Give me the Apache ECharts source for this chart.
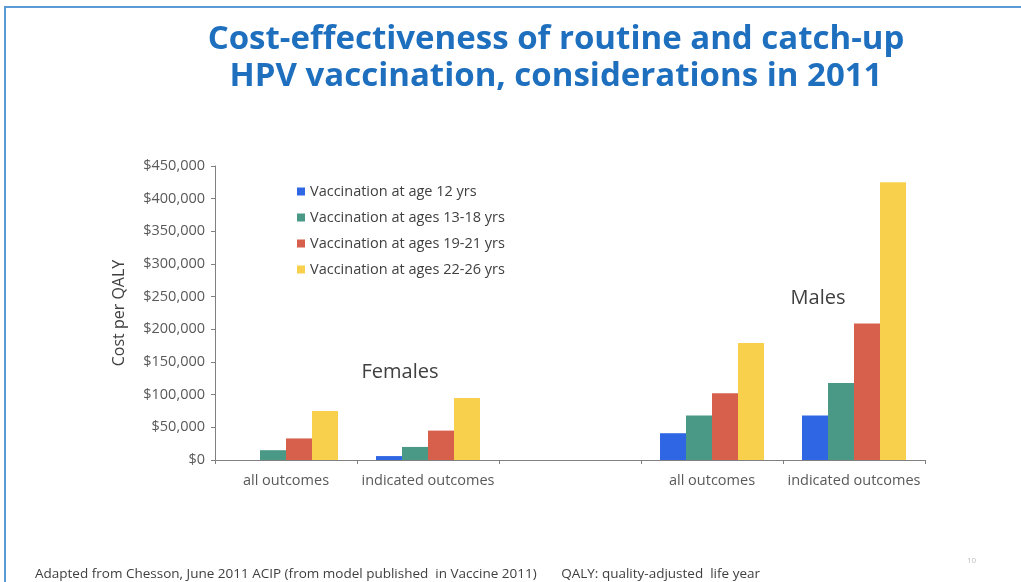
<!DOCTYPE html>
<html>
<head>
<meta charset="utf-8">
<script src="https://cdn.jsdelivr.net/npm/echarts@6/dist/echarts.min.js"></script>
<style>
  html, body { margin: 0; padding: 0; background: #fff; }
  #main { width: 1021px; height: 582px; position: relative; }
  .frame { position: absolute; left: 4px; top: 6px; right: 0; bottom: 0;
           border-top: 2px solid #5b9bd5; border-left: 2px solid #5b9bd5; pointer-events: none; }
</style>
</head>
<body>
<div class="frame"></div>
<div id="main"></div>
<script>
// data
const categories = ["all outcomes", "indicated outcomes", "", "all outcomes", "indicated outcomes"];
const seriesNames = [
  "Vaccination at age 12 yrs",
  "Vaccination at ages 13-18 yrs",
  "Vaccination at ages 19-21 yrs",
  "Vaccination at ages 22-26 yrs"
];
const age12 = [0, 6000, null, 41000, 68000];
const age13to18 = [15000, 20000, null, 68000, 118000];
const age19to21 = [33000, 45000, null, 102000, 209000];
const age22to26 = [75000, 95000, null, 179000, 425000];
const colors = ["#2f66e3", "#4a9886", "#d6604c", "#f9d04b"];

const Chart = echarts.init(document.getElementById("main"));
const font = "'Open Sans', sans-serif";

function bar(name, data, i) {
  return {
    name: name,
    type: "bar",
    data: data,
    barWidth: 26,
    barGap: "0%",
    itemStyle: { color: colors[i] },
  };
}

const options = {
  animation: false,
  textStyle: { fontFamily: font },
  title: [
    {
      text: "Cost-effectiveness of routine and catch-up\nHPV vaccination, considerations in 2011",
      left: 551,
      top: 16,
      textAlign: "center",
      textStyle: { color: "#1f6fbf", fontSize: 33, fontWeight: "bold", lineHeight: 37, fontFamily: font },
    },
    {
      text: "Females",
      left: 395,
      top: 357,
      textAlign: "center",
      textStyle: { color: "#404040", fontSize: 20, fontWeight: "normal", fontFamily: font },
    },
    {
      text: "Males",
      left: 813,
      top: 283,
      textAlign: "center",
      textStyle: { color: "#404040", fontSize: 20, fontWeight: "normal", fontFamily: font },
    },
    {
      text: "Adapted from Chesson, June 2011 ACIP (from model published  in Vaccine 2011)       QALY: quality-adjusted  life year",
      left: 30,
      top: 562,
      textStyle: { color: "#404040", fontSize: 13.5, fontWeight: "normal", fontFamily: font },
    },
    {
      text: "10",
      left: 962,
      top: 552,
      textStyle: { color: "#c0c0c0", fontSize: 8, fontWeight: "normal", fontFamily: font },
    },
  ],
  legend: {
    data: seriesNames,
    orient: "vertical",
    left: 292,
    top: 179,
    itemWidth: 8,
    itemHeight: 8,
    itemGap: 11,
    icon: "rect",
    textStyle: { color: "#404040", fontSize: 14.5, fontFamily: font },
  },
  grid: {
    left: 215,
    right: 96,
    top: 166,
    bottom: 122,
  },
  xAxis: {
    type: "category",
    data: categories,
    axisLine: { lineStyle: { color: "#808080", width: 1 } },
    axisTick: { show: true, length: 4, lineStyle: { color: "#808080" } },
    axisLabel: { color: "#595959", fontSize: 14.5, margin: 13, interval: 0 },
  },
  yAxis: {
    type: "value",
    min: 0,
    max: 450000,
    interval: 50000,
    name: "Cost per QALY",
    nameLocation: "middle",
    nameRotate: 90,
    nameGap: 88,
    nameTextStyle: { color: "#404040", fontSize: 16 },
    splitLine: { show: false },
    axisLine: { show: true, lineStyle: { color: "#808080" } },
    axisTick: { show: true, length: 4, lineStyle: { color: "#808080" } },
    axisLabel: {
      color: "#595959",
      fontSize: 14.5,
      margin: 10,
      formatter: (v) => "$" + v.toLocaleString("en-US"),
    },
  },
  series: [
    bar(seriesNames[0], age12, 0),
    bar(seriesNames[1], age13to18, 1),
    bar(seriesNames[2], age19to21, 2),
    bar(seriesNames[3], age22to26, 3),
  ],
};

Chart.setOption(options);
</script>
</body>
</html>
